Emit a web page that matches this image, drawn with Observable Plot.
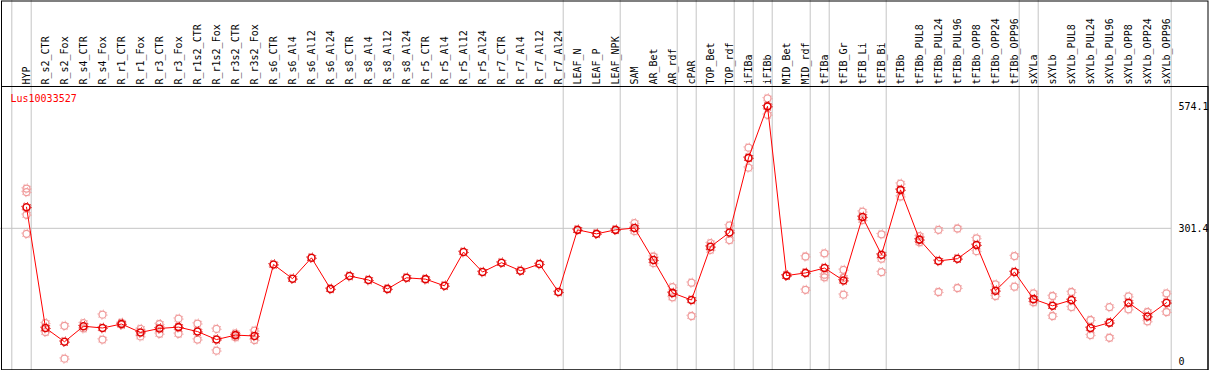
<!DOCTYPE html>
<html>
<head>
<meta charset="utf-8">
<script src="https://cdn.jsdelivr.net/npm/d3@7"></script>
<script src="https://cdn.jsdelivr.net/npm/@observablehq/plot@0.6"></script>
<style>
  html, body { margin: 0; padding: 0; background: #fff; }
</style>
</head>
<body>
<div id="chart"></div>
<script>
const geneName = "Lus10033527";

const categories = [
  "HYP","R_s2_CTR","R_s2_Fox","R_s4_CTR","R_s4_Fox","R_r1_CTR","R_r1_Fox","R_r3_CTR","R_r3_Fox",
  "R_r1s2_CTR","R_r1s2_Fox","R_r3s2_CTR","R_r3s2_Fox",
  "R_s6_CTR","R_s6_Al4","R_s6_Al12","R_s6_Al24","R_s8_CTR","R_s8_Al4","R_s8_Al12","R_s8_Al24",
  "R_r5_CTR","R_r5_Al4","R_r5_Al12","R_r5_Al24","R_r7_CTR","R_r7_Al4","R_r7_Al12","R_r7_Al24",
  "LEAF_N","LEAF_P","LEAF_NPK","SAM","AR_Bet","AR_rdf","cPAR","TOP_Bet","TOP_rdf","iFIBa","iFIBb",
  "MID_Bet","MID_rdf","tFIBa","tFIB_Gr","tFIB_Li","tFIB_Bi","tFIBb",
  "tFIBb_PUL8","tFIBb_PUL24","tFIBb_PUL96","tFIBb_OPP8","tFIBb_OPP24","tFIBb_OPP96",
  "sXYLa","sXYLb","sXYLb_PUL8","sXYLb_PUL24","sXYLb_PUL96","sXYLb_OPP8","sXYLb_OPP24","sXYLb_OPP96"
];

const meanValues = [
  349, 77, 46, 81, 77, 86, 67, 76, 79,
  69, 51, 61, 59,
  220, 188, 235, 165, 194, 185, 165, 190,
  187, 172, 248, 203, 224, 206, 221, 158,
  298, 289, 298, 302, 230, 156, 140, 260, 292, 460, 576,
  195, 201, 212, 184, 327, 242, 388,
  276, 228, 233, 264, 161, 203,
  142, 127, 140, 77, 89, 134, 103, 134
];

const replicateValues = [
  [391, 383, 332, 289], [88, 68], [82, 8], [88, 76], [107, 51], [89, 84], [75, 58], [86, 64], [98, 64],
  [87, 51], [75, 26], [65, 56], [71, 50],
  [], [], [], [], [], [], [], [],
  [], [], [], [], [], [], [], [],
  [], [], [], [313, 295], [238, 223], [169, 146], [179, 104], [268, 253], [308, 275], [483, 438], [594, 557],
  [195], [238, 163], [245, 197, 191], [208, 190, 152], [339, 320], [288, 233, 203], [402, 373],
  [284, 270], [298, 158], [301, 167], [279, 250], [175, 149], [239, 170],
  [155, 135], [149, 104], [158, 124], [95, 61], [124, 55], [148, 119], [113, 92], [155, 113]
];

const yTicks = [0, 301.4, 574.1];
const gridValues = [301.4];
const groupFirst = ["HYP"];
const groupEnds = ["HYP","R_r7_Al24","LEAF_NPK","AR_rdf","cPAR","TOP_rdf","iFIBa","iFIBb",
  "MID_rdf","tFIBa","tFIB_Bi","tFIBb_OPP96","sXYLa","sXYLb_OPP96"];

const means = categories.map((c, i) => ({cat: c, value: meanValues[i]}));
const reps = categories.flatMap((c, i) => replicateValues[i].map(v => ({cat: c, value: v})));

const mainColor = "#ff0000";
const ringColor = "#e00000";
const repColor = "#f09a9a";
const gridColor = "#c4c4c4";

const chart = Plot.plot({
  width: 1209,
  height: 370,
  marginTop: 86,
  marginBottom: 0,
  marginLeft: 0,
  marginRight: 0,
  style: {fontFamily: "'DejaVu Sans Mono', monospace", fontSize: "10px", background: "#fff", color: "#000"},
  x: {type: "point", domain: categories, range: [26, 1166], padding: 0, axis: null},
  y: {domain: [0, 574.1], range: [361.7, 106.7], axis: null},
  marks: [
    Plot.ruleY(gridValues, {stroke: gridColor, strokeWidth: 1, insetRight: 38}),
    Plot.ruleX(groupFirst, {x: d => d, dx: -14.7, stroke: gridColor, strokeWidth: 1, insetTop: -86}),
    Plot.ruleX(groupEnds, {x: d => d, dx: 4.7, stroke: gridColor, strokeWidth: 1, insetTop: -86}),
    Plot.frame({stroke: "#000", strokeWidth: 1, insetLeft: 1, insetRight: 1.5, insetBottom: 0.5}),
    Plot.frame({stroke: "#000", strokeWidth: 1, insetTop: -85.5, insetLeft: 1, insetRight: 1.5, insetBottom: 0.5}),
    Plot.text(categories, {x: d => d, frameAnchor: "top", rotate: -90, textAnchor: "start", lineAnchor: "middle", dy: -2, fill: "#000"}),
    Plot.text([geneName], {frameAnchor: "top-left", textAnchor: "start", lineAnchor: "middle", dx: 10, dy: 12, fill: mainColor}),
    Plot.text(yTicks, {y: d => d, frameAnchor: "right", textAnchor: "start", dx: -31, text: d => String(d), fill: "#000"}),
    Plot.dot(reps, {x: "cat", y: "value", r: 3.5, stroke: repColor, strokeWidth: 1.3, fill: "none"}),
    Plot.dot(reps, {x: "cat", y: "value", r: 4.6, stroke: repColor, strokeWidth: 1, strokeDasharray: "1,2.6", fill: "none"}),
    Plot.line(means, {x: "cat", y: "value", stroke: mainColor, strokeWidth: 1}),
    Plot.dot(means, {x: "cat", y: "value", r: 3.5, stroke: ringColor, strokeWidth: 1.6, fill: "none"}),
    Plot.dot(means, {x: "cat", y: "value", r: 4.8, stroke: ringColor, strokeWidth: 1, strokeDasharray: "1,2.77", fill: "none"})
  ]
});

document.getElementById("chart").appendChild(chart);
</script>
</body>
</html>
